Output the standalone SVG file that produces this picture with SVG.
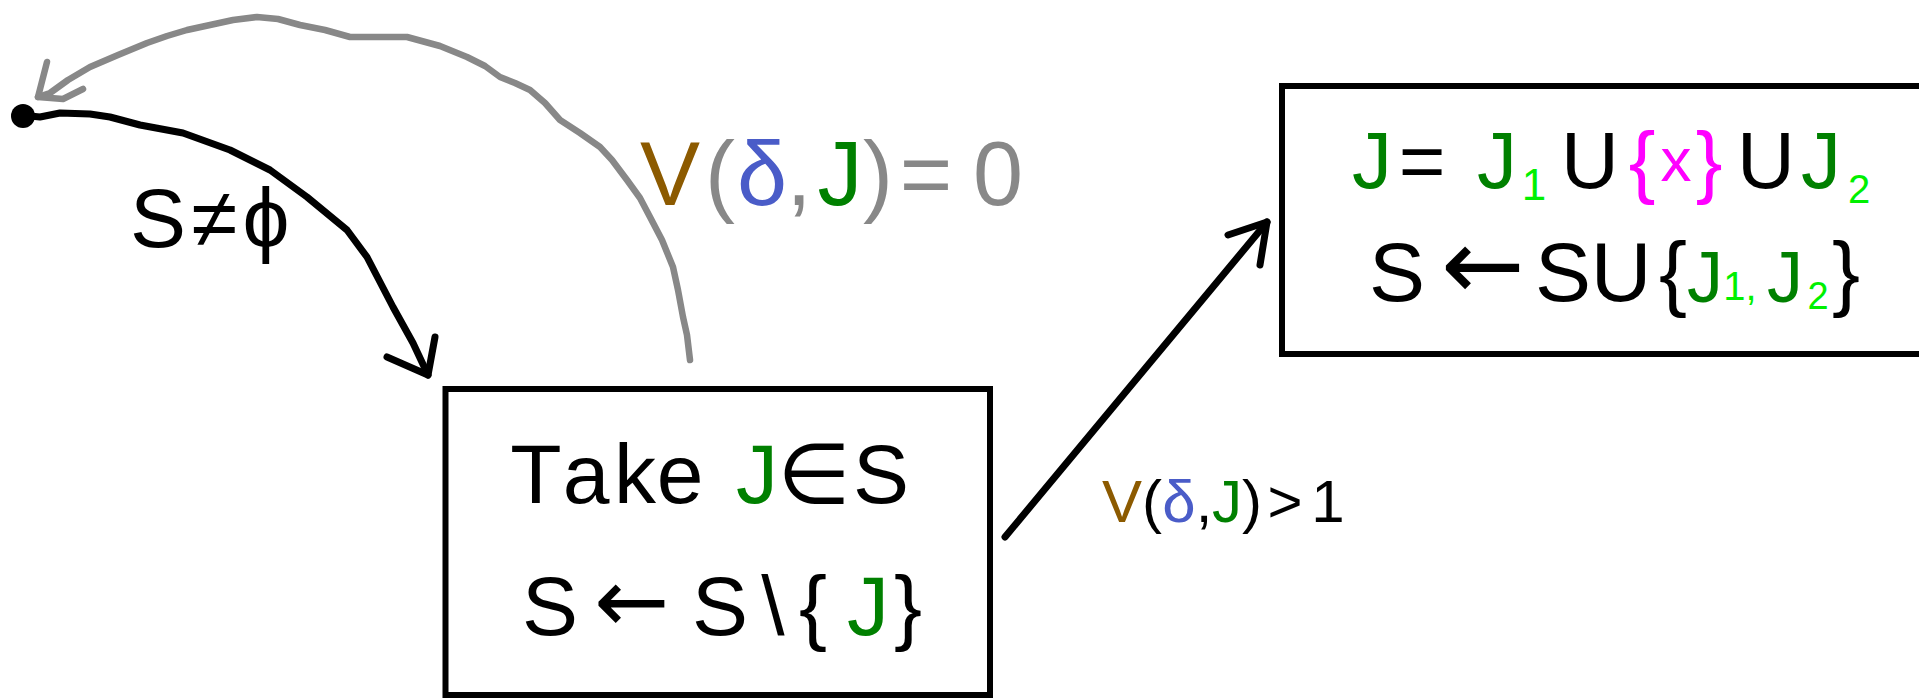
<svg xmlns="http://www.w3.org/2000/svg" width="1919" height="698" viewBox="0 0 1919 698">
<style>
.bg{fill:#ffffff}
.box{fill:none;stroke:#000;stroke-width:6}
.ink{fill:none;stroke-linecap:round;stroke-linejoin:round}
.blk{stroke:#000;stroke-width:7}
.gry{stroke:#888888;stroke-width:6.5}
text{font-family:"Liberation Sans","DejaVu Sans",sans-serif;text-anchor:middle;fill:#000}
.arr{font-family:"DejaVu Sans",sans-serif}
.g{fill:#888888}
.br{fill:#8c5a00}
.bl{fill:#4a5cc8}
.dg{fill:#008000}
.lg{fill:#00f000}
.mg{fill:#ff00ff}
</style>
<rect class="bg" x="0" y="0" width="1919" height="698"/>

<g id="connectors">
  <g id="edge-start-take">
    <polyline class="ink blk" points="30,116 40,117 60,113 90,114 110,117 140,125 183,133 230,150 270,170 307,197 347,230 367,257 393,307 413,343 428,375"/>
    <polyline class="ink blk" points="387,357 428,375 435,337"/>
  </g>
  <g id="edge-take-start">
    <polyline class="ink gry" points="690,360 687,335 683,317 678,290 673,267 662,240 650,217 640,198 627,180 612,160 600,147 580,133 560,120 545,103 530,90 515,83 500,77 485,66 467,57 440,46 407,37 380,37 350,37 325,30 300,25 278,19 257,17 233,20 210,25 187,30 167,36 147,43 118,55 90,67 68,80 50,93 38,97"/>
    <polyline class="ink gry" points="47,62 38,97 63,99 83,89"/>
  </g>
  <g id="edge-take-split">
    <line class="ink blk" x1="1005" y1="537" x2="1267" y2="222"/>
    <polyline class="ink blk" points="1228,235 1267,222 1260,265"/>
  </g>
</g>

<g id="labels">
  <text id="label-nonempty" font-size="84" y="247"><tspan x="158">S</tspan><tspan x="214">≠</tspan><tspan x="266">ϕ</tspan></text>
  <text id="label-zero" font-size="90" y="205"><tspan x="670" class="br">V</tspan><tspan x="720" class="g">(</tspan><tspan x="762" class="bl">δ</tspan><tspan x="799" class="g">,</tspan><tspan x="840" class="dg">J</tspan><tspan x="878" class="g">)</tspan><tspan x="926" class="g">=</tspan><tspan x="998" class="g">0</tspan></text>
  <text id="label-gt1" font-size="60" y="522"><tspan x="1122" class="br">V</tspan><tspan x="1152">(</tspan><tspan x="1179" class="bl">δ</tspan><tspan x="1204">,</tspan><tspan x="1227" class="dg">J</tspan><tspan x="1252">)</tspan><tspan x="1285">&gt;</tspan><tspan x="1328">1</tspan></text>
</g>

<g id="start">
  <circle cx="23" cy="116" r="12" fill="#000"/>
</g>

<g id="take">
  <rect class="box" x="445.5" y="389" width="544.5" height="306"/>
  <text font-size="84" y="503"><tspan x="536">T</tspan><tspan x="586">a</tspan><tspan x="635">k</tspan><tspan x="680">e</tspan><tspan x="757" class="dg">J</tspan><tspan x="814">∈</tspan><tspan x="881">S</tspan></text>
  <text font-size="84" y="635"><tspan x="550">S</tspan><tspan x="720">S</tspan><tspan x="773">\</tspan><tspan x="813">{</tspan><tspan x="868" class="dg">J</tspan><tspan x="908">}</tspan></text>
  <text class="arr" font-size="90" x="632" y="632">←</text>
</g>

<g id="split">
  <rect class="box" x="1282" y="86" width="700" height="268"/>
  <text font-size="80" y="188"><tspan x="1372" class="dg">J</tspan><tspan x="1422">=</tspan><tspan x="1497" class="dg">J</tspan><tspan x="1590">U</tspan><tspan x="1642" class="mg">{</tspan><tspan x="1709" class="mg">}</tspan><tspan x="1766">U</tspan><tspan x="1821" class="dg">J</tspan></text>
  <text font-size="62" y="181" class="mg"><tspan x="1676">x</tspan></text>
  <text font-size="44" y="200" class="lg"><tspan x="1534">1</tspan></text>
  <text font-size="40" y="203" class="lg"><tspan x="1859">2</tspan></text>
  <text font-size="84" y="301"><tspan x="1397">S</tspan><tspan x="1563">S</tspan><tspan x="1621">U</tspan><tspan x="1673">{</tspan><tspan x="1846">}</tspan></text>
  <text class="arr" font-size="100" x="1483" y="299">←</text>
  <text font-size="72" y="302" class="dg"><tspan x="1705">J</tspan><tspan x="1785">J</tspan></text>
  <text font-size="40" y="300" class="lg"><tspan x="1740">1,</tspan></text>
  <text font-size="38" y="309" class="lg"><tspan x="1818">2</tspan></text>
</g>
</svg>
